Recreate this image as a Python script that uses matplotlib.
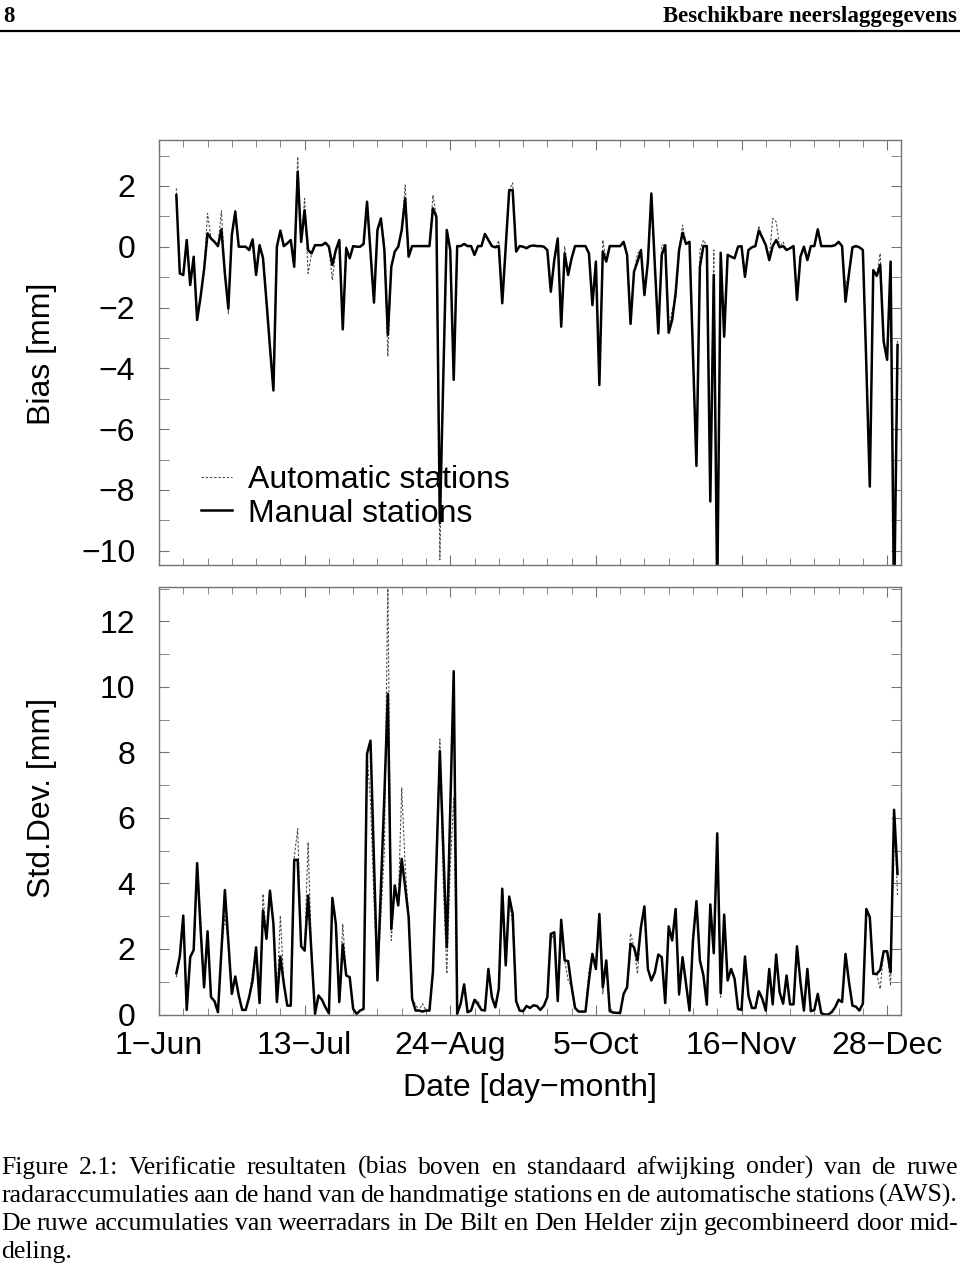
import numpy as np
import matplotlib
matplotlib.use("Agg")
from matplotlib import pyplot as plt
from matplotlib.lines import Line2D

plt.rcParams["font.family"] = ["Liberation Sans", "DejaVu Sans"]

# days counted from 1 June, one value per day starting here
first_day = 5

bias_manual = [
    1.70, -0.88, -0.93, 0.22, -1.26, -0.33, -2.41, -1.64, -0.75, 0.44,
    0.27, 0.16, 0.02, 0.57, -0.88, -2.03, 0.38, 1.15, 0.00, 0.00,
    0.00, -0.11, 0.24, -0.93, 0.05, -0.38, -1.80, -3.30, -4.73, 0.00,
    0.53, 0.02, 0.11, 0.22, -0.66, 2.46, 0.16, 1.20, -0.11, -0.22,
    0.05, 0.05, 0.05, 0.13, 0.00, -0.60, -0.11, 0.22, -2.72, -0.05,
    -0.38, 0.02, 0.00, 0.00, 0.09, 1.48, -0.20, -1.84, 0.55, 0.93,
    -0.11, -2.90, -0.66, -0.16, 0.00, 0.55, 1.59, -0.33, 0.02, 0.02,
    0.02, 0.02, 0.02, 0.02, 1.26, 0.99, -9.09, -4.30, 0.55, -0.11,
    -4.38, 0.02, 0.02, 0.09, 0.02, 0.02, -0.27, 0.02, 0.02, 0.42,
    0.22, 0.02, -0.02, 0.02, -1.86, 0.00, 1.86, 1.86, -0.16, 0.02,
    0.00, -0.05, 0.02, 0.04, 0.02, 0.02, 0.00, -0.11, -1.48, -0.44,
    0.27, -2.63, -0.22, -0.93, -0.38, 0.02, 0.02, 0.02, 0.02, -0.22,
    -1.92, -0.49, -4.55, -0.16, -0.49, 0.02, 0.02, 0.02, 0.02, 0.16,
    -0.27, -2.54, -0.82, -0.49, -0.11, -1.59, -0.49, 1.75, -0.60, -2.85,
    -0.27, 0.05, -2.83, -2.41, -1.53, -0.11, 0.46, 0.09, 0.16, -3.50,
    -7.21, -0.66, 0.02, 0.02, -8.38, -0.93, -11.50, -0.20, -2.96, -0.27,
    -0.33, -0.38, 0.00, 0.02, -0.99, -0.11, -0.02, 0.02, 0.53, 0.30,
    0.05, -0.44, 0.02, 0.22, -0.02, 0.02, -0.11, -0.05, 0.02, -1.75,
    -0.33, 0.00, -0.44, 0.02, 0.02, 0.57, 0.02, 0.02, 0.02, 0.02,
    0.05, 0.16, 0.02, -1.81, -0.88, -0.02, 0.02, -0.02, -0.11, -3.90,
    -7.89, -0.77, -0.96, -0.60, -3.12, -3.72, -0.49, -12.00, -3.23,
]

bias_auto = [
    1.92, -0.88, -0.93, 0.22, -1.26, -0.33, -2.41, -1.64, -0.75, 1.10,
    0.27, 0.16, 0.02, 1.18, -0.88, -2.20, 0.38, 1.20, 0.00, 0.00,
    0.00, -0.11, 0.24, -0.93, 0.05, -0.30, -1.80, -3.30, -4.60, 0.00,
    0.53, 0.02, 0.11, 0.22, -0.66, 2.96, 0.16, 1.59, -0.88, -0.22,
    0.05, 0.05, 0.05, 0.13, 0.00, -1.10, -0.11, 0.22, -2.72, 0.00,
    -0.38, 0.02, 0.00, 0.00, 0.09, 1.48, -0.20, -1.53, 0.55, 0.90,
    0.10, -3.61, -0.66, -0.16, 0.00, 0.55, 2.03, -0.33, 0.02, 0.02,
    0.02, 0.02, 0.02, 0.02, 1.70, 0.99, -10.30, -4.30, 0.55, -0.11,
    -4.38, 0.02, 0.02, 0.09, 0.02, 0.02, -0.27, 0.02, 0.02, 0.42,
    0.22, 0.02, -0.02, 0.20, -1.50, 0.00, 1.86, 2.10, -0.16, 0.02,
    0.00, -0.05, 0.02, 0.04, 0.02, 0.02, 0.00, -0.11, -1.48, -0.44,
    0.27, -2.63, 0.00, -0.93, -0.38, 0.02, 0.02, 0.02, 0.02, -0.22,
    -1.92, -0.49, -4.55, 0.22, -0.49, 0.02, 0.02, 0.02, 0.02, 0.16,
    -0.27, -2.54, -0.82, -0.22, -0.11, -1.59, -0.49, 1.75, -0.60, -2.85,
    0.05, 0.05, -2.83, -2.08, -1.75, -0.11, 0.71, 0.09, 0.16, -3.50,
    -7.21, -0.11, 0.22, 0.02, -8.38, -0.11, -11.50, -0.20, -2.96, -0.27,
    -0.33, -0.38, 0.00, 0.02, -0.99, -0.11, -0.02, 0.02, 0.68, 0.30,
    0.05, -0.44, 0.93, 0.82, -0.02, 0.16, -0.11, -0.05, 0.02, -1.75,
    -0.33, 0.00, -0.44, 0.02, 0.02, 0.57, 0.02, 0.02, 0.02, 0.02,
    0.05, 0.16, 0.02, -1.30, -0.88, -0.02, 0.02, -0.02, -0.11, -3.90,
    -7.89, -0.77, -0.96, -0.22, -3.12, -3.72, -0.49, -12.00, -3.10,
]

std_manual = [
    1.26, 1.77, 3.02, 0.14, 1.75, 1.97, 4.62, 2.60, 0.83, 2.54,
    0.53, 0.41, 0.07, 1.95, 3.80, 2.20, 0.63, 1.16, 0.58, 0.14,
    0.14, 0.53, 1.04, 2.05, 0.35, 3.17, 2.31, 3.78, 2.77, 0.38,
    1.77, 0.94, 0.27, 0.27, 4.72, 4.72, 2.08, 1.95, 3.63, 1.85,
    0.02, 0.58, 0.45, 0.22, 0.04, 3.56, 2.77, 0.38, 2.14, 1.19,
    1.14, 0.17, 0.02, 0.12, 0.17, 7.96, 8.36, 4.70, 1.04, 3.90,
    6.70, 9.79, 2.61, 3.94, 3.33, 4.75, 3.89, 2.97, 0.48, 0.12,
    0.12, 0.09, 0.12, 0.12, 1.30, 4.60, 8.04, 5.00, 2.05, 6.20,
    10.48, 0.02, 0.33, 0.92, 0.07, 0.12, 0.45, 0.31, 0.14, 0.12,
    1.39, 0.53, 0.22, 0.78, 3.84, 1.50, 3.60, 3.07, 0.41, 0.12,
    0.10, 0.26, 0.20, 0.28, 0.26, 0.14, 0.27, 0.53, 2.46, 2.51,
    0.41, 2.89, 1.65, 1.63, 0.85, 0.20, 0.09, 0.09, 0.09, 1.04,
    1.85, 1.39, 3.07, 0.83, 1.65, 0.10, 0.06, 0.05, 0.05, 0.63,
    0.83, 2.16, 2.05, 1.65, 2.67, 3.30, 1.39, 1.04, 1.29, 1.83,
    1.75, 0.35, 2.69, 2.26, 3.22, 0.63, 1.75, 0.94, 0.12, 2.26,
    3.46, 1.65, 1.20, 0.30, 3.36, 1.87, 5.53, 0.65, 3.05, 1.04,
    1.39, 1.09, 0.17, 0.14, 1.77, 0.58, 0.20, 0.20, 0.71, 0.48,
    0.12, 1.39, 0.31, 1.83, 0.68, 0.33, 1.19, 0.31, 0.31, 2.08,
    0.99, 0.12, 1.39, 0.10, 0.14, 0.63, 0.04, 0.00, 0.00, 0.07,
    0.22, 0.45, 0.38, 1.85, 0.99, 0.27, 0.24, 0.12, 0.33, 3.22,
    2.97, 1.24, 1.24, 1.36, 1.93, 1.93, 1.29, 6.25, 4.29,
]

std_auto = [
    1.14, 1.77, 3.02, 0.14, 1.75, 1.97, 4.62, 2.90, 0.83, 2.54,
    0.53, 0.41, 0.07, 1.95, 3.00, 2.20, 0.63, 1.16, 0.58, 0.14,
    0.14, 0.53, 1.30, 2.05, 0.35, 3.68, 2.31, 3.78, 2.77, 0.38,
    3.02, 0.94, 0.27, 0.27, 4.80, 5.67, 2.08, 1.95, 5.26, 1.85,
    0.02, 0.58, 0.45, 0.22, 0.04, 3.56, 2.77, 0.38, 2.77, 1.19,
    1.14, 0.17, 0.02, 0.12, 0.17, 7.96, 6.50, 3.50, 1.04, 3.00,
    5.00, 13.20, 2.26, 3.94, 3.33, 6.92, 4.50, 3.00, 0.48, 0.30,
    0.12, 0.33, 0.12, 0.12, 1.30, 4.60, 8.41, 4.00, 1.24, 4.50,
    6.60, 0.02, 0.33, 0.92, 0.07, 0.12, 0.45, 0.43, 0.14, 0.12,
    1.39, 0.53, 0.22, 0.78, 3.84, 1.50, 3.60, 2.72, 0.41, 0.12,
    0.10, 0.26, 0.20, 0.28, 0.26, 0.14, 0.27, 0.53, 2.26, 2.51,
    0.41, 2.89, 1.65, 1.04, 0.85, 0.20, 0.09, 0.09, 0.09, 1.35,
    1.85, 1.39, 3.07, 0.63, 1.65, 0.22, 0.06, 0.05, 0.05, 0.63,
    0.83, 2.48, 2.05, 1.24, 2.67, 3.30, 1.39, 1.04, 1.29, 1.83,
    1.75, 0.35, 2.69, 2.26, 3.22, 0.58, 1.75, 0.94, 0.12, 2.26,
    3.46, 1.65, 1.20, 0.30, 3.36, 1.87, 5.53, 0.53, 3.05, 1.04,
    1.39, 1.09, 0.17, 0.14, 1.77, 0.58, 0.20, 0.20, 0.71, 0.48,
    0.12, 1.39, 0.31, 1.83, 0.68, 0.33, 1.19, 0.31, 0.31, 2.08,
    0.99, 0.12, 1.39, 0.10, 0.14, 0.63, 0.04, 0.00, 0.00, 0.07,
    0.22, 0.45, 0.38, 1.85, 0.99, 0.27, 0.24, 0.12, 0.33, 3.22,
    2.97, 1.24, 1.24, 0.78, 1.93, 1.93, 0.88, 6.25, 3.63,
]

date_ticks = [0, 42, 84, 126, 168, 210]
date_labels = ["1\u2212Jun", "13\u2212Jul", "24\u2212Aug", "5\u2212Oct",
               "16\u2212Nov", "28\u2212Dec"]
bias_ticks = [-10, -8, -6, -4, -2, 0, 2]
std_ticks = [0, 2, 4, 6, 8, 10, 12]

header_left = "8"
header_right = "Beschikbare neerslaggegevens"
caption_lines = [
    "Figure 2.1: Verificatie resultaten (bias boven en standaard afwijking onder) van de ruwe",
    "radaraccumulaties aan de hand van de handmatige stations en de automatische stations (AWS).",
    "De ruwe accumulaties van weerradars in De Bilt en Den Helder zijn gecombineerd door mid-",
    "deling.",
]

W, H = 960, 1279
FS = 23
CAP_FS = 18.5
FRAME = "0.45"

days = np.arange(first_day, first_day + len(bias_manual))


def fx(px):
    return px / W


def fy(py):
    return 1 - py / H


def style_axes(ax):
    for s in ax.spines.values():
        s.set_color(FRAME)
        s.set_linewidth(1.0)
    ax.set_xlim(0, 214)
    ax.set_xticks(date_ticks)
    ax.set_xticks(np.arange(0, 215, 7), minor=True)
    ax.tick_params(which="both", direction="in", top=True, right=True,
                   color=FRAME, labelsize=FS)
    ax.tick_params(axis="y", which="both", length=7, pad=17)
    ax.tick_params(axis="x", which="major", length=7, pad=12)
    ax.tick_params(axis="x", which="minor", length=5)


def plot_pair(ax, auto, manual):
    ax.plot(days, auto, color="0.3", lw=0.8, ls=(0, (2.2, 1.6)),
            label="Automatic stations")
    ax.plot(days, manual, color="black", lw=1.8, label="Manual stations")


fig = plt.figure(figsize=(W / 100, H / 100), dpi=100)

# bias panel
ax1 = fig.add_axes([fx(159), fy(565), fx(742), 425 / H])
plot_pair(ax1, bias_auto, bias_manual)
style_axes(ax1)
ax1.set_ylim(-10.47, 3.51)
ax1.set_yticks(bias_ticks)
ax1.set_yticks(np.arange(-10, 4, 1), minor=True)
ax1.tick_params(labelbottom=False)
ax1.legend(loc="upper left", bbox_to_anchor=(0.056, 0.236), frameon=False,
           fontsize=FS, handlelength=1.0, handletextpad=0.5,
           labelspacing=0.12, borderpad=0, borderaxespad=0)

# std.dev. panel
ax2 = fig.add_axes([fx(159), fy(1014.5), fx(742), 427.5 / H])
plot_pair(ax2, std_auto, std_manual)
style_axes(ax2)
ax2.set_ylim(0, 13.05)
ax2.set_yticks(std_ticks)
ax2.set_yticks(np.arange(0, 14, 1), minor=True)
ax2.set_xticklabels(date_labels)

fig.text(fx(42), fy(354), "Bias [mm]", rotation=90, ha="center",
         va="center", fontsize=FS)
fig.text(fx(42), fy(798), "Std.Dev. [mm]", rotation=90, ha="center",
         va="center", fontsize=FS)
fig.text(fx(530), fy(1088), "Date [day\u2212month]", ha="center",
         va="center", fontsize=FS)

# page header
serif = ["Liberation Serif", "DejaVu Serif"]
fig.text(fx(3), fy(22), header_left, family=serif, weight="bold",
         fontsize=16.5, ha="left", va="baseline")
fig.text(fx(957), fy(22), header_right, family=serif, weight="bold",
         fontsize=16.5, ha="right", va="baseline")
fig.add_artist(Line2D([0, 1], [fy(31), fy(31)], color="black", lw=1.6))

# caption, justified word by word
renderer = fig.canvas.get_renderer()
x_left, x_right = 1, 958
space = CAP_FS * 100 / 72 * 0.25
for i, line in enumerate(caption_lines):
    y = fy(1174 + 28 * i)
    words = line.split()
    items = [fig.text(0, y, w, family=serif, fontsize=CAP_FS, va="baseline")
             for w in words]
    widths = [t.get_window_extent(renderer).width for t in items]
    if i < len(caption_lines) - 1 and len(words) > 1:
        gap = (x_right - x_left - sum(widths)) / (len(words) - 1)
        gap = max(gap, 0.5 * space)
    else:
        gap = space
    x = x_left
    for t, w in zip(items, widths):
        t.set_x(fx(x))
        x += w + gap

fig.savefig("out.png", dpi=100)
